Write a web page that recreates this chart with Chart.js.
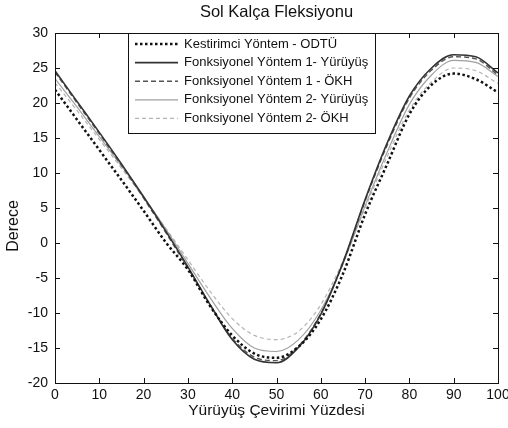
<!DOCTYPE html>
<html>
<head>
<meta charset="utf-8">
<script src="https://cdn.jsdelivr.net/npm/chart.js@4"></script>
<style>
  body { margin: 0; background: #fff; }
  #wrap { width: 508px; height: 428px; }
</style>
</head>
<body>
<div id="wrap"><canvas id="c" width="508" height="428"></canvas></div>
<script>
// gait cycle percent
const percent = [0, 5, 10, 15, 20, 25, 30, 35, 40, 45, 50, 55, 60, 65, 70, 75, 80, 85, 90, 95, 100];

const odtu      = [21.9, 17.6, 13.3, 9.0, 4.6, 0.1, -3.8, -9.0, -13.2, -15.8, -16.4, -14.8, -10.9, -4.4, 4.1, 11.3, 18.4, 22.6, 24.2, 23.4, 21.5];
const f1Yuruyus = [24.6, 20.2, 15.8, 11.3, 6.6, 1.7, -3.4, -8.8, -13.8, -16.6, -17.1, -14.9, -10.2, -2.8, 6.2, 14.3, 21.0, 25.0, 26.9, 26.6, 24.3];
const f1Okh     = [24.4, 20.0, 15.6, 11.1, 6.4, 1.5, -3.6, -8.8, -13.6, -16.3, -16.8, -14.7, -10.1, -2.9, 6.0, 14.0, 20.7, 24.7, 26.6, 26.3, 24.0];
const f2Yuruyus = [23.5, 19.4, 15.2, 11.0, 6.6, 2.0, -2.9, -7.8, -12.2, -15.0, -15.5, -13.8, -9.6, -3.0, 5.3, 13.0, 19.8, 24.0, 26.1, 25.8, 23.8];
const f2Okh     = [22.9, 18.9, 14.8, 10.7, 6.5, 2.1, -2.4, -6.9, -10.8, -13.2, -13.8, -12.6, -8.8, -2.6, 5.0, 12.4, 19.0, 23.0, 25.0, 24.6, 22.8];

const labels = [
    'Kestirimci Yöntem - ODTÜ',
    'Fonksiyonel Yöntem 1- Yürüyüş',
    'Fonksiyonel Yöntem 1 - ÖKH',
    'Fonksiyonel Yöntem 2- Yürüyüş',
    'Fonksiyonel Yöntem 2- ÖKH'
];

const FONT = "'Liberation Sans', Arial, sans-serif";
const pts = arr => arr.map((v, i) => ({ x: percent[i], y: v }));

// box + inward ticks on all sides, titles and legend (matlab look)
const frame = {
    id: 'frame',
    afterDraw(chart) {
        const { ctx, chartArea: a, scales: { x, y } } = chart;
        ctx.save();
        ctx.strokeStyle = '#111';
        ctx.lineWidth = 1;
        ctx.strokeRect(Math.round(a.left) + 0.5, Math.round(a.top) + 0.5, Math.round(a.width), Math.round(a.height));
        ctx.beginPath();
        x.ticks.forEach(t => {
            const px = Math.round(x.getPixelForValue(t.value)) + 0.5;
            ctx.moveTo(px, a.bottom); ctx.lineTo(px, a.bottom - 5);
            ctx.moveTo(px, a.top); ctx.lineTo(px, a.top + 5);
        });
        y.ticks.forEach(t => {
            const py = Math.round(y.getPixelForValue(t.value)) + 0.5;
            ctx.moveTo(a.left, py); ctx.lineTo(a.left + 5, py);
            ctx.moveTo(a.right, py); ctx.lineTo(a.right - 5, py);
        });
        ctx.stroke();

        // title
        ctx.fillStyle = '#111';
        ctx.font = '16.5px ' + FONT;
        ctx.textAlign = 'center';
        ctx.textBaseline = 'middle';
        ctx.fillText('Sol Kalça Fleksiyonu', (a.left + a.right) / 2, 12);

        // y axis title
        ctx.save();
        ctx.translate(14, 226);
        ctx.rotate(-Math.PI / 2);
        ctx.font = '16px ' + FONT;
        ctx.fillText('Derece', 0, 0);
        ctx.restore();

        // legend
        const lx = 128, ly = Math.round(a.top) + 0.5, lw = 247, lh = 100;
        ctx.fillStyle = '#fff';
        ctx.fillRect(lx, ly, lw, lh);
        ctx.strokeStyle = '#111';
        ctx.strokeRect(lx + 0.5, ly, lw, lh);
        ctx.font = '13px ' + FONT;
        ctx.textAlign = 'left';
        chart.data.datasets.forEach((ds, i) => {
            const ry = ly + 10.5 + i * 18.6;
            ctx.save();
            ctx.strokeStyle = ds.borderColor;
            ctx.lineWidth = ds.borderWidth;
            ctx.setLineDash(ds.borderDash || []);
            ctx.beginPath();
            ctx.moveTo(135, ry); ctx.lineTo(178, ry);
            ctx.stroke();
            ctx.restore();
            ctx.fillStyle = '#111';
            ctx.fillText(ds.label, 184, ry);
        });
        ctx.restore();
    }
};

new Chart(document.getElementById('c'), {
    type: 'line',
    data: {
        datasets: [
            { label: labels[0], data: pts(odtu), borderColor: '#111', borderWidth: 2.5, borderDash: [2.5, 2.5] },
            { label: labels[1], data: pts(f1Yuruyus), borderColor: '#333', borderWidth: 1.6 },
            { label: labels[2], data: pts(f1Okh), borderColor: '#555', borderWidth: 1.4, borderDash: [5, 3] },
            { label: labels[3], data: pts(f2Yuruyus), borderColor: '#a0a0a0', borderWidth: 1.2 },
            { label: labels[4], data: pts(f2Okh), borderColor: '#b4b4b4', borderWidth: 1.2, borderDash: [4, 3] }
        ]
    },
    options: {
        responsive: false,
        animation: false,
        layout: { padding: { left: 0, right: 10, top: 33, bottom: 0 } },
        elements: { point: { radius: 0 }, line: { cubicInterpolationMode: 'monotone' } },
        plugins: { legend: { display: false }, tooltip: { enabled: false } },
        scales: {
            x: {
                type: 'linear', min: 0, max: 100,
                grid: { display: false, drawTicks: false },
                border: { display: false },
                ticks: { stepSize: 10, padding: 4, color: '#111', font: { size: 14, family: FONT } },
                title: { display: true, text: 'Yürüyüş Çevirimi Yüzdesi', color: '#111', font: { size: 15.5, family: FONT }, padding: { top: 0, bottom: 8 } },
                afterFit: s => { s.height = 45; s.paddingLeft = 0; s.paddingRight = 0; }
            },
            y: {
                type: 'linear', min: -20, max: 30,
                grid: { display: false, drawTicks: false },
                border: { display: false },
                ticks: { stepSize: 5, padding: 7, color: '#111', font: { size: 14, family: FONT } },
                afterFit: s => { s.width = 55; }
            }
        }
    },
    plugins: [frame]
});
</script>
</body>
</html>
